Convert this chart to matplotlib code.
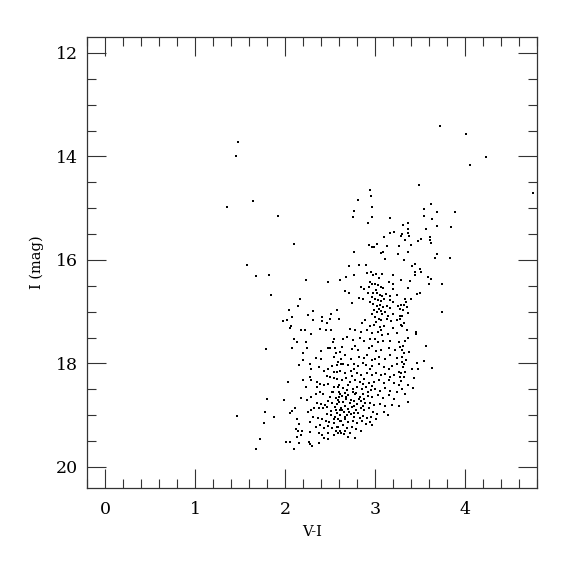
import numpy as np
import matplotlib.pyplot as plt
from matplotlib.ticker import MultipleLocator

# (V-I, I) pairs read off the reference CMD
# bright / sparse stars
bright = [
    (1.47, 13.73), (1.45, 14.00), (1.35, 14.97), (1.64, 14.87), (1.92, 15.16), (2.10, 15.70),
    (3.72, 13.42), (4.01, 13.56), (4.23, 14.01), (4.05, 14.16), (4.76, 14.71), (3.49, 14.56),
    (2.94, 14.64), (2.95, 14.76), (2.81, 14.85), (2.97, 14.97), (2.76, 15.06), (2.75, 15.18),
    (2.96, 15.18), (2.92, 15.28), (3.17, 15.20), (3.62, 14.92), (3.54, 15.01), (3.69, 15.07),
    (3.89, 15.07), (3.54, 15.16), (3.63, 15.21), (3.69, 15.34), (3.84, 15.37), (3.57, 15.41),
    (3.37, 15.28), (3.31, 15.32), (3.36, 15.41), (3.37, 15.48), (3.30, 15.50), (3.21, 15.47),
    (3.17, 15.48), (3.29, 15.54), (3.38, 15.54), (3.10, 15.56), (3.33, 15.61), (3.61, 15.56),
    (3.61, 15.62), (3.62, 15.68), (3.51, 15.60), (3.48, 15.63), (3.40, 15.71), (3.26, 15.74),
    (3.13, 15.74), (3.02, 15.70), (2.93, 15.72), (2.96, 15.76), (2.99, 15.76),
]

# blue outliers on the left
blue = [
    (1.57, 16.10), (1.67, 16.32), (1.82, 16.30), (1.84, 16.68), (1.79, 17.73), (1.80, 18.69),
    (1.77, 18.93), (1.46, 19.01), (1.88, 19.04), (1.76, 19.15), (1.72, 19.46), (1.68, 19.65),
]

# upper branch, I ~ 15.8 - 17.6
upper = [
    (2.23, 16.39), (2.47, 16.42), (2.16, 16.76), (2.14, 16.90), (2.04, 16.96), (2.02, 17.17),
    (1.97, 17.18), (2.07, 17.10), (2.06, 17.28), (2.05, 17.32), (2.31, 16.99), (2.25, 17.07),
    (2.41, 17.10), (2.51, 17.05), (2.58, 16.97), (2.50, 17.14), (2.46, 17.22), (2.41, 17.19),
    (2.39, 17.34), (2.45, 17.35), (2.31, 17.17), (2.18, 17.35), (2.22, 17.35), (2.29, 17.44),
    (2.10, 17.52), (2.13, 17.59), (2.23, 17.59), (2.51, 17.36), (2.54, 17.53), (2.53, 17.59),
    (2.60, 17.14),
    (3.06, 15.87), (3.09, 15.85), (2.77, 15.85), (3.25, 15.89), (3.11, 15.98), (2.71, 16.12),
    (2.82, 16.10), (2.90, 16.09), (2.91, 16.25), (2.95, 16.24), (2.98, 16.29), (3.01, 16.27),
    (3.08, 16.28), (3.20, 16.29), (2.77, 16.29), (2.68, 16.34), (2.61, 16.39), (2.94, 16.43),
    (2.97, 16.46), (3.00, 16.47), (3.03, 16.49), (2.93, 16.52), (3.06, 16.52), (3.09, 16.55),
    (3.15, 16.43), (3.20, 16.46), (3.20, 16.56), (2.84, 16.52), (2.88, 16.56), (2.66, 16.60),
    (2.71, 16.63), (2.92, 16.64), (2.98, 16.63), (3.02, 16.64), (3.05, 16.67), (3.08, 16.69),
    (3.12, 16.65), (3.17, 16.69), (3.24, 16.67), (2.97, 16.72), (3.00, 16.76), (3.03, 16.77),
    (3.06, 16.79), (3.10, 16.76), (3.17, 16.77), (3.20, 16.82), (2.82, 16.73), (2.86, 16.76),
    (2.74, 16.83), (2.94, 16.82), (2.98, 16.86), (3.02, 16.89), (3.05, 16.87), (3.09, 16.91),
    (3.13, 16.90), (3.17, 16.92), (3.25, 16.90), (3.28, 16.95), (2.99, 16.96), (3.02, 17.00),
    (3.06, 16.99), (3.08, 17.05), (3.11, 17.01), (3.14, 17.08), (3.20, 17.05), (3.28, 17.08),
    (3.00, 17.10), (3.04, 17.14), (3.07, 17.17), (3.13, 17.14), (3.18, 17.18), (3.24, 17.17),
    (2.89, 17.17), (2.85, 17.21), (2.94, 17.27), (2.99, 17.25), (3.05, 17.29), (3.10, 17.27),
    (3.20, 17.31), (2.72, 17.34), (2.78, 17.36), (2.84, 17.39), (2.91, 17.36), (2.97, 17.41),
    (3.03, 17.40), (3.08, 17.45), (3.14, 17.43), (3.24, 17.41), (2.69, 17.49), (2.75, 17.54),
    (2.83, 17.50), (2.88, 17.57), (2.94, 17.53), (3.00, 17.53), (3.03, 17.59), (3.09, 17.56),
    (3.17, 17.57), (3.26, 17.59), (2.64, 17.53),
    (3.04, 16.35), (3.01, 16.58), (3.04, 16.95), (2.96, 17.05), (3.01, 17.20), (3.06, 17.35),
    (3.36, 15.84), (3.69, 15.89), (3.66, 15.97), (3.83, 15.97), (3.32, 16.01), (3.44, 16.07),
    (3.41, 16.12), (3.50, 16.17), (3.51, 16.23), (3.44, 16.24), (3.44, 16.29), (3.59, 16.33),
    (3.62, 16.36), (3.29, 16.39), (3.39, 16.41), (3.60, 16.47), (3.74, 16.47), (3.36, 16.54),
    (3.50, 16.64), (3.46, 16.66), (3.40, 16.75), (3.33, 16.76), (3.34, 16.81), (3.32, 16.87),
    (3.29, 16.87), (3.35, 16.91), (3.31, 16.97), (3.37, 17.03), (3.74, 17.01), (3.30, 17.08),
    (3.28, 17.15), (3.32, 17.21), (3.29, 17.25), (3.30, 17.28), (3.35, 17.36), (3.45, 17.39),
    (3.45, 17.43), (3.36, 17.50), (3.33, 17.57), (3.57, 17.67),
]

# lower clump, I ~ 17.65 - 19.7
lower = [
    (2.08, 17.70), (2.20, 17.80), (2.24, 17.71), (2.40, 17.76), (2.48, 17.71), (2.50, 17.70),
    (2.56, 17.79), (2.61, 17.78), (2.34, 17.89), (2.40, 17.92), (2.54, 17.88), (2.62, 17.91),
    (2.20, 17.93), (2.15, 18.03), (2.28, 18.02), (2.29, 18.10), (2.38, 18.07), (2.43, 18.15),
    (2.48, 18.10), (2.52, 18.05), (2.57, 18.04), (2.62, 18.01), (2.58, 18.16), (2.50, 18.27),
    (2.54, 18.29), (2.46, 18.24), (2.28, 18.27), (2.29, 18.33), (2.35, 18.36), (2.39, 18.40),
    (2.43, 18.41), (2.48, 18.40), (2.20, 18.32), (2.03, 18.36), (2.23, 18.45), (2.35, 18.45),
    (2.54, 18.46), (2.60, 18.41), (2.52, 18.56), (2.60, 18.56), (2.39, 18.56), (2.42, 18.59),
    (2.34, 18.60), (2.29, 18.65), (2.24, 18.71), (2.17, 18.67), (1.99, 18.71), (2.50, 18.64),
    (2.56, 18.67), (2.60, 18.65), (2.48, 18.72), (2.52, 18.76), (2.57, 18.78), (2.60, 18.74),
    (2.35, 18.76), (2.40, 18.78), (2.44, 18.80), (2.46, 18.85), (2.42, 18.87), (2.38, 18.87),
    (2.32, 18.87), (2.29, 18.91), (2.25, 18.94), (2.11, 18.87), (2.08, 18.92), (2.05, 18.95),
    (2.51, 18.92), (2.56, 18.91), (2.61, 18.91), (2.46, 18.98), (2.51, 19.00), (2.55, 19.04),
    (2.59, 19.07), (2.62, 19.11), (2.31, 19.03), (2.36, 19.05), (2.41, 19.08), (2.45, 19.11),
    (2.49, 19.13), (2.54, 19.16), (2.13, 19.08), (2.15, 19.17), (2.12, 19.26), (2.14, 19.30),
    (2.19, 19.31), (2.28, 19.14), (2.34, 19.22), (2.39, 19.20), (2.43, 19.25), (2.47, 19.21),
    (2.52, 19.25), (2.57, 19.22), (2.61, 19.30), (2.37, 19.34), (2.41, 19.39), (2.43, 19.44),
    (2.48, 19.35), (2.54, 19.39), (2.59, 19.34), (2.17, 19.39), (2.13, 19.43), (2.28, 19.33),
    (2.26, 19.52), (2.28, 19.56), (2.30, 19.60), (2.37, 19.53), (2.48, 19.47), (2.01, 19.51),
    (2.05, 19.51), (2.15, 19.54), (2.10, 19.66),
    (2.55, 17.71), (2.63, 17.69), (2.74, 17.73), (2.78, 17.67), (2.81, 17.75), (2.93, 17.70),
    (2.96, 17.66), (3.01, 17.76), (3.07, 17.74), (3.15, 17.71), (3.22, 17.75), (3.28, 17.69),
    (3.32, 17.79), (2.67, 17.84), (2.73, 17.91), (2.82, 17.87), (2.88, 17.89), (2.91, 17.84),
    (2.96, 17.93), (3.00, 17.91), (3.04, 17.87), (3.11, 17.92), (3.16, 17.84), (3.24, 17.89),
    (3.30, 17.87), (2.59, 17.98), (2.64, 18.02), (2.70, 18.04), (2.76, 18.01), (2.81, 18.05),
    (2.87, 18.00), (2.90, 18.04), (2.94, 18.10), (2.97, 18.05), (3.04, 18.02), (3.10, 18.06),
    (3.15, 18.10), (3.19, 18.05), (3.24, 18.02), (3.31, 18.07), (2.54, 18.16), (2.61, 18.14),
    (2.67, 18.19), (2.73, 18.15), (2.77, 18.11), (2.80, 18.18), (2.84, 18.22), (2.91, 18.19),
    (2.96, 18.23), (3.01, 18.18), (3.06, 18.23), (3.11, 18.20), (3.16, 18.27), (3.21, 18.22),
    (3.26, 18.16), (3.32, 18.27), (2.58, 18.31), (2.63, 18.32), (2.68, 18.28), (2.72, 18.35),
    (2.78, 18.32), (2.83, 18.36), (2.88, 18.31), (2.93, 18.37), (2.99, 18.35), (3.04, 18.32),
    (3.10, 18.37), (3.15, 18.33), (3.21, 18.37), (3.27, 18.41), (2.59, 18.45), (2.64, 18.47),
    (2.70, 18.42), (2.75, 18.49), (2.80, 18.46), (2.85, 18.50), (2.90, 18.45), (2.95, 18.51),
    (3.00, 18.49), (3.05, 18.54), (3.11, 18.47), (3.17, 18.53), (3.24, 18.55), (3.30, 18.50),
    (2.53, 18.56), (2.61, 18.60), (2.66, 18.58), (2.70, 18.62), (2.75, 18.56), (2.78, 18.60),
    (2.83, 18.64), (2.87, 18.59), (2.92, 18.63), (2.97, 18.65), (3.03, 18.62), (3.09, 18.67),
    (3.15, 18.62), (3.21, 18.69), (2.59, 18.71), (2.64, 18.75), (2.68, 18.69), (2.72, 18.76),
    (2.76, 18.72), (2.80, 18.78), (2.84, 18.73), (2.89, 18.77), (2.94, 18.76), (2.99, 18.81),
    (3.05, 18.78), (3.11, 18.82), (3.19, 18.80), (2.55, 18.84), (2.62, 18.86), (2.67, 18.82),
    (2.70, 18.89), (2.74, 18.85), (2.79, 18.90), (2.84, 18.87), (2.88, 18.91), (2.93, 18.86),
    (2.98, 18.93), (3.02, 18.98), (3.10, 18.94), (2.58, 18.96), (2.61, 18.99), (2.65, 18.94),
    (2.69, 19.00), (2.73, 18.98), (2.77, 19.03), (2.81, 18.96), (2.87, 19.02), (2.91, 19.05),
    (2.95, 19.03), (3.01, 19.08), (2.54, 19.08), (2.61, 19.12), (2.66, 19.08), (2.70, 19.13),
    (2.75, 19.11), (2.80, 19.15), (2.85, 19.11), (2.90, 19.17), (2.94, 19.13), (2.59, 19.22),
    (2.64, 19.20), (2.69, 19.25), (2.74, 19.22), (2.79, 19.26), (2.56, 19.30), (2.62, 19.34),
    (2.67, 19.30), (2.72, 19.35), (2.78, 19.44), (2.65, 19.36),
    (2.68, 18.65), (2.73, 18.70), (2.77, 18.82), (2.82, 18.69), (2.86, 18.83), (2.71, 18.93),
    (2.76, 18.95), (2.83, 19.06), (2.67, 19.04), (2.63, 18.90), (2.79, 18.57), (2.69, 18.52),
    (2.86, 18.40), (2.92, 18.55), (2.97, 18.43), (2.74, 18.25), (2.63, 18.63), (2.88, 18.68),
    (3.33, 18.60), (3.26, 18.82), (3.14, 19.00), (2.96, 19.20), (2.84, 19.30), (2.70, 19.42),
    (3.31, 17.66), (3.30, 17.74), (3.38, 17.78), (3.34, 17.94), (3.30, 17.97), (3.32, 18.02),
    (3.46, 17.99), (3.54, 17.96), (3.63, 18.09), (3.41, 18.11), (3.48, 18.11), (3.33, 18.16),
    (3.29, 18.19), (3.28, 18.27), (3.43, 18.28), (3.29, 18.34), (3.37, 18.41), (3.42, 18.47),
    (3.37, 18.74),
]

plt.rcParams['font.family'] = 'DejaVu Serif'
fig = plt.figure(figsize=(5.75, 5.75), dpi=100)
ax = fig.add_axes([0.152, 0.152, 0.782, 0.783])

for grp in (bright, blue, upper, lower):
    vi, imag = np.array(grp).T
    ax.plot(vi, imag, 's', color='black', ms=1.7, mew=0)

ax.set_xlim(-0.2, 4.8)
ax.set_ylim(20.4, 11.7)
ax.xaxis.set_major_locator(MultipleLocator(1))
ax.xaxis.set_minor_locator(MultipleLocator(0.2))
ax.yaxis.set_major_locator(MultipleLocator(2))
ax.yaxis.set_minor_locator(MultipleLocator(0.5))
ax.tick_params(which='both', direction='in', top=True, right=True, color='#333333', width=0.8)
ax.tick_params(which='major', length=13.5, labelsize=12.5, pad=10)
ax.tick_params(axis='y', which='major', pad=7)
ax.tick_params(which='minor', length=6.5)
for s in ax.spines.values():
    s.set_color('#333333')
    s.set_linewidth(0.9)

ax.set_xlabel('V-I', fontsize=10.5, labelpad=5)
ax.set_ylabel('I (mag)', fontsize=10.5, labelpad=8)

fig.savefig('out.png', dpi=100)
